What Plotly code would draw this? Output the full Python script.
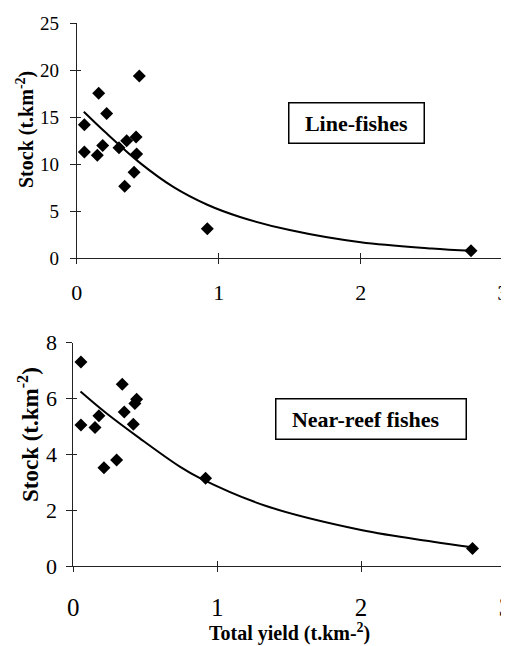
import plotly.graph_objects as go

# ---- data ----
line_yield = [0.054, 0.054, 0.145, 0.155, 0.183, 0.211, 0.298, 0.338, 0.352, 0.404, 0.418, 0.422, 0.441, 0.92, 2.777]
line_stock = [14.2, 11.3, 10.95, 17.55, 12.0, 15.4, 11.77, 7.66, 12.5, 9.15, 12.9, 11.1, 19.4, 3.15, 0.81]

reef_yield = [0.053, 0.053, 0.151, 0.178, 0.213, 0.301, 0.34, 0.354, 0.417, 0.428, 0.44, 0.919, 2.774]
reef_stock = [7.31, 5.05, 4.96, 5.38, 3.52, 3.8, 6.51, 5.52, 5.08, 5.82, 5.97, 3.14, 0.63]

line_fit_x = [0.05, 0.21, 0.45, 0.68, 0.92, 1.15, 1.5, 2.0, 2.5, 2.78]
line_fit_y = [15.6, 13.3, 10.1, 7.6, 5.7, 4.4, 3.0, 1.7, 1.05, 0.8]

reef_fit_x = [0.05, 0.23, 0.46, 0.74, 0.88, 1.34, 2.0, 2.5, 2.77]
reef_fit_y = [6.25, 5.47, 4.58, 3.56, 3.15, 2.15, 1.29, 0.87, 0.67]

x_ticks = [0, 1, 2, 3]
top_y_ticks = [0, 5, 10, 15, 20, 25]
bot_y_ticks = [0, 2, 4, 6, 8]

# the page body adds an 8 px margin, so the figure is slightly smaller and offset
OFF = 8
W, H = 509 - OFF, 646 - OFF
FONT = "Liberation Serif, Times New Roman, serif"
AX = "#222222"

def px(x):
    return (x - OFF) / W

def py(y):
    return 1 - (y - OFF) / H

fig = go.Figure()

mk = dict(symbol="diamond", size=10, color="black")
fig.add_trace(go.Scatter(x=line_yield, y=line_stock, mode="markers", marker=mk,
                         xaxis="x", yaxis="y", showlegend=False))
fig.add_trace(go.Scatter(x=line_fit_x, y=line_fit_y, mode="lines",
                         line=dict(color="black", width=2, shape="spline", smoothing=1),
                         xaxis="x", yaxis="y", showlegend=False))
fig.add_trace(go.Scatter(x=reef_yield, y=reef_stock, mode="markers", marker=mk,
                         xaxis="x2", yaxis="y2", showlegend=False))
fig.add_trace(go.Scatter(x=reef_fit_x, y=reef_fit_y, mode="lines",
                         line=dict(color="black", width=2, shape="spline", smoothing=1),
                         xaxis="x2", yaxis="y2", showlegend=False))

top_xd = [px(76.7), px(502.7)]
top_yd = [py(258.3), py(23.3)]
bot_xd = [px(73.3), min(1.0, px(505))]
bot_yd = [py(566), py(342.7)]

common_x = dict(range=[0, 3], tickvals=x_ticks, showgrid=False, zeroline=False,
                showline=True, linecolor=AX, linewidth=1, automargin=False,
                ticklabeloverflow="allow",
                ticks="outside", ticklen=5, tickcolor=AX, tickwidth=1)
common_y = dict(showgrid=False, zeroline=False, showline=True, linecolor=AX, linewidth=1,
                automargin=False, ticks="outside", ticklen=6, tickcolor=AX, tickwidth=1)
overlay = dict(showgrid=False, zeroline=False, showline=False, showticklabels=False,
               automargin=False, tickcolor=AX, ticks="inside")

fig.update_layout(
    width=W, height=H,
    margin=dict(l=0, r=0, t=0, b=0, autoexpand=False),
    paper_bgcolor="white", plot_bgcolor="white",
    xaxis=dict(domain=top_xd, anchor="y", **common_x,
               tickfont=dict(family=FONT, size=22, color="black"), ticklabelstandoff=9),
    yaxis=dict(domain=top_yd, anchor="x", range=[0, 25], tickvals=top_y_ticks, **common_y,
               tickfont=dict(family=FONT, size=19, color="black"), ticklabelstandoff=7),
    xaxis2=dict(domain=bot_xd, anchor="y2", **common_x,
                tickfont=dict(family=FONT, size=25, color="black"), ticklabelstandoff=14),
    yaxis2=dict(domain=bot_yd, anchor="x2", range=[0, 8], tickvals=bot_y_ticks, **common_y,
                tickfont=dict(family=FONT, size=22, color="black"), ticklabelstandoff=5),
    # overlay axes giving the inner half of the crossing tick marks
    xaxis3=dict(overlaying="x", anchor="y", range=[0, 3], tickvals=x_ticks, ticklen=5, **overlay),
    yaxis3=dict(overlaying="y", anchor="x", range=[0, 25], tickvals=top_y_ticks, ticklen=4, **overlay),
    xaxis4=dict(overlaying="x2", anchor="y2", range=[0, 3], tickvals=x_ticks, ticklen=5, **overlay),
    yaxis4=dict(overlaying="y2", anchor="x2", range=[0, 8], tickvals=bot_y_ticks, ticklen=4, **overlay),
)

# placeholder traces so the overlay axes render
fig.add_trace(go.Scatter(x=[None], y=[None], xaxis="x3", yaxis="y3", showlegend=False))
fig.add_trace(go.Scatter(x=[None], y=[None], xaxis="x4", yaxis="y4", showlegend=False))

annotations = [
    dict(text="<b>Stock (t.km<sup>-2</sup>)</b>", x=px(25), y=py(130), textangle=-90,
         font=dict(family=FONT, size=20, color="black")),
    dict(text="<b>Stock (t.km<sup>-2</sup>)</b>", x=px(28), y=py(435), textangle=-90,
         font=dict(family=FONT, size=23, color="black")),
    dict(text="<b>Total yield (t.km-<sup>2</sup>)</b>", x=px(289), y=py(632),
         font=dict(family=FONT, size=20, color="black")),
    dict(text="<b>Line-fishes</b>", x=px(356), y=py(123.5), width=134, height=39,
         bordercolor="black", borderwidth=1.5, borderpad=0, bgcolor="white",
         font=dict(family=FONT, size=22, color="black")),
    dict(text="<b>Near-reef fishes</b>&nbsp;&nbsp;", x=px(370.5), y=py(419.5), width=189, height=39,
         bordercolor="black", borderwidth=1.5, borderpad=0, bgcolor="white",
         font=dict(family=FONT, size=22, color="black")),
]
for a in annotations:
    a.update(xref="paper", yref="paper", xanchor="center", yanchor="middle", showarrow=False)
fig.update_layout(annotations=annotations)

fig.write_html("out.html")
